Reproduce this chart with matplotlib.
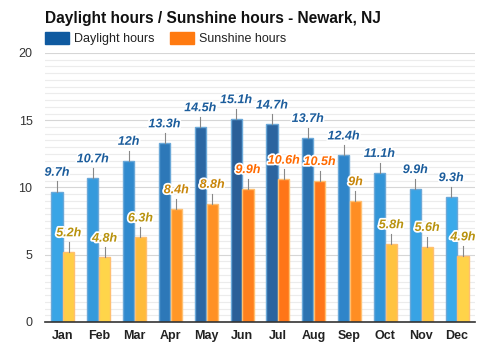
import matplotlib
matplotlib.use("Agg")
import matplotlib.pyplot as plt
import matplotlib.patheffects as pe
import numpy as np
from matplotlib.colors import LinearSegmentedColormap, Normalize
from matplotlib.patches import Rectangle

plt.rcParams['font.family'] = ['Liberation Sans', 'DejaVu Sans']

months = ["Jan", "Feb", "Mar", "Apr", "May", "Jun", "Jul", "Aug", "Sep", "Oct", "Nov", "Dec"]
daylight = [9.7, 10.7, 12.0, 13.3, 14.5, 15.1, 14.7, 13.7, 12.4, 11.1, 9.9, 9.3]
sunshine = [5.2, 4.8, 6.3, 8.4, 8.8, 9.9, 10.6, 10.5, 9.0, 5.8, 5.6, 4.9]
day_labels = ["9.7h", "10.7h", "12h", "13.3h", "14.5h", "15.1h", "14.7h", "13.7h", "12.4h", "11.1h", "9.9h", "9.3h"]
sun_labels = ["5.2h", "4.8h", "6.3h", "8.4h", "8.8h", "9.9h", "10.6h", "10.5h", "9h", "5.8h", "5.6h", "4.9h"]

fig = plt.figure(figsize=(5, 3.5), dpi=100)
ax = fig.add_axes([0.09, 0.08, 0.86, 0.7686])

day_cmap = LinearSegmentedColormap.from_list("d", ["#3aaaea", "#2f88cc", "#2a5f98"])
sun_cmap = LinearSegmentedColormap.from_list("s", ["#ffd54a", "#ffa22c", "#ff7518"])
dnorm = Normalize(9.3, 15.1)
snorm = Normalize(4.8, 10.6)

x = np.arange(len(months))
w = 0.31
off = 0.165

ax.set_xlim(-0.5, 11.5)
ax.set_ylim(0, 20)

# grid
for v in np.arange(0.5, 20.01, 0.5):
    major = abs(v % 5) < 1e-9
    ax.axhline(v, color="#d6d6d6" if major else "#ececec", lw=0.8, zorder=0)

day_colors = [day_cmap(dnorm(v)) for v in daylight]
sun_colors = [sun_cmap(snorm(v)) for v in sunshine]

ax.bar(x - off, daylight, width=w, color=day_colors, edgecolor="#6aa8d8", linewidth=1.0, zorder=2)
ax.bar(x + off, sunshine, width=w, color=sun_colors, edgecolor="#ffbf70", linewidth=1.0, zorder=2)

stroke = [pe.withStroke(linewidth=2.5, foreground="white")]
for i in range(len(months)):
    ax.plot([x[i] - off, x[i] - off], [daylight[i], daylight[i] + 0.75], color="#888888", lw=0.8, zorder=3)
    ax.text(x[i] - off, daylight[i] + 0.95, day_labels[i], ha="center", va="bottom",
            fontsize=9, fontweight="bold", fontstyle="italic", color="#1c5d9c",
            path_effects=stroke, zorder=4)
    ax.plot([x[i] + off, x[i] + off], [sunshine[i], sunshine[i] + 0.75], color="#888888", lw=0.8, zorder=3)
    scol = "#ff6a00" if sunshine[i] >= 9.5 else ("#c8860a" if sunshine[i] >= 7 else "#b8920e")
    ax.text(x[i] + off, sunshine[i] + 0.95, sun_labels[i], ha="center", va="bottom",
            fontsize=9, fontweight="bold", fontstyle="italic", color=scol,
            path_effects=stroke, zorder=4)

for s in ["left", "right", "top"]:
    ax.spines[s].set_visible(False)
ax.spines["bottom"].set_color("#333333")
ax.spines["bottom"].set_linewidth(1.2)
ax.spines["bottom"].set_zorder(5)

ax.set_yticks([0, 5, 10, 15, 20])
ax.tick_params(axis="y", length=0, labelsize=9, labelcolor="#333333", pad=9)
ax.set_xticks(x)
ax.set_xticklabels(months, fontweight="bold")
ax.tick_params(axis="x", length=0, labelsize=9, labelcolor="#222222", pad=6)

fig.text(0.09, 1 - 22.5/350, "Daylight hours / Sunshine hours - Newark, NJ", fontsize=11.2,
         fontweight="bold", color="#111111", va="baseline")

# legend
fig.patches.append(Rectangle((45/500, 1 - 44/350), 24/500, 12/350, transform=fig.transFigure,
                             color="#0f5aa0", figure=fig))
fig.text(74/500, 1 - 42/350, "Daylight hours", fontsize=9, color="#222222", va="baseline")
fig.patches.append(Rectangle((170/500, 1 - 44/350), 24/500, 12/350, transform=fig.transFigure,
                             color="#ff7a10", figure=fig))
fig.text(199/500, 1 - 42/350, "Sunshine hours", fontsize=9, color="#222222", va="baseline")

fig.savefig("out.png", dpi=100)
